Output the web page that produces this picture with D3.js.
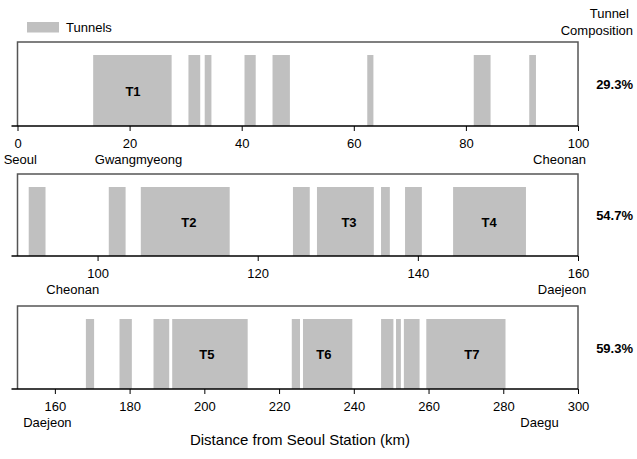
<!DOCTYPE html>
<html><head><meta charset="utf-8">
<script src="https://cdn.jsdelivr.net/npm/d3@7"></script>
<style>body{margin:0;background:#fff} svg text{font-family:"Liberation Sans",Arial,sans-serif;fill:#000}</style>
</head><body><svg id="c" width="637" height="459"></svg>
<script>
// ---- data ----
const panelDomains = [[0,100],[90,160],[150,300]];
const panelTicks = [[0,20,40,60,80,100],[100,120,140,160],[160,180,200,220,240,260,280,300]];
const tunnels1 = [[13.5,27.5],[30.5,32.6],[33.4,34.6],[40.5,42.5],[45.5,48.6],[62.4,63.5],[81.4,84.4],[91.3,92.5]];
const tunnels2 = [[91.4,93.5],[101.4,103.5],[105.4,116.5],[124.4,126.5],[127.4,134.5],[135.4,136.5],[138.4,140.5],[144.4,153.5]];
const tunnels3 = [[168.3,170.5],[177.3,180.6],[186.4,190.6],[191.4,211.6],[223.4,225.6],[226.4,239.6],[247.3,250.6],[251.3,252.6],[253.4,257.6],[259.4,280.6]];
const tunnelLabels1 = [["T1",20.6]];
const tunnelLabels2 = [["T2",111.4],["T3",131.4],["T4",148.9]];
const tunnelLabels3 = [["T5",200.7],["T6",232],["T7",271.6]];
const stations1 = [["Seoul",0.5],["Gwangmyeong",21.6],["Cheonan",96.7]];
const stations2 = [["Cheonan",96.9],["Daejeon",158]];
const stations3 = [["Daejeon",158],["Daegu",289.7]];
const composition = ["29.3%","54.7%","59.3%"];
const legendLabel = "Tunnels";
const compTitle = ["Tunnel","Composition"];
const xTitle = "Distance from Seoul Station (km)";

const tunnels = [tunnels1,tunnels2,tunnels3];
const tunnelLabels = [tunnelLabels1,tunnelLabels2,tunnelLabels3];
const stations = [stations1,stations2,stations3];

// ---- layout ----
const svg = d3.select("#c");
const left = 17.5, right = 578;
const tops = [42,174,306], bottoms = [126,256,389];
const barTopOff = 13;
const barColor = "#c0c0c0";

panelDomains.forEach((dom,i)=>{
  const x = d3.scaleLinear().domain(dom).range([left,right]);
  const top = tops[i], bot = bottoms[i];
  const g = svg.append("g");
  const y0 = top + barTopOff;
  g.selectAll("rect.bar").data(tunnels[i]).join("rect")
    .attr("x", d=>x(d[0])).attr("width", d=>x(d[1])-x(d[0]))
    .attr("y", y0).attr("height", bot-y0).attr("fill", barColor);
  // frame
  g.append("path").attr("d",`M${left},${bot}V${top}H${right}V${bot}`)
    .attr("fill","none").attr("stroke","#555").attr("stroke-width",1.5);
  // axis
  const ax = g.append("g").attr("transform",`translate(0,${bot})`)
    .call(d3.axisBottom(x).tickValues(panelTicks[i]).tickSize(5).tickSizeOuter(0).tickFormat(d3.format("d")));
  ax.select(".domain").remove();
  ax.selectAll(".tick line").attr("stroke","#000").attr("stroke-width",1);
  ax.selectAll(".tick text").attr("font-size",13).attr("dy",null).attr("y",21.5)
    .style("font-family",'"Liberation Sans",Arial,sans-serif');
  g.append("line").attr("x1",left-6).attr("x2",right).attr("y1",bot).attr("y2",bot)
    .attr("stroke","#000").attr("stroke-width",1.5);
  // tunnel labels
  g.selectAll("text.tl").data(tunnelLabels[i]).join("text")
    .attr("x",d=>x(d[1])).attr("y",(y0+bot)/2+5).attr("text-anchor","middle")
    .attr("font-size",13).attr("font-weight","bold").text(d=>d[0]);
  // stations
  g.selectAll("text.st").data(stations[i]).join("text")
    .attr("x",d=>x(d[1])).attr("y",bot+37.5).attr("text-anchor","middle")
    .attr("font-size",13).text(d=>d[0]);
  // composition
  g.append("text").attr("x",633).attr("y",(top+bot)/2+5).attr("text-anchor","end")
    .attr("font-size",13).attr("font-weight","bold").text(composition[i]);
});

// legend
svg.append("rect").attr("x",27).attr("y",22).attr("width",32).attr("height",10.5).attr("fill",barColor);
svg.append("text").attr("x",66).attr("y",32).attr("font-size",13).text(legendLabel);
svg.append("text").attr("x",629).attr("y",18).attr("text-anchor","end").attr("font-size",13).text(compTitle[0]);
svg.append("text").attr("x",633).attr("y",34.5).attr("text-anchor","end").attr("font-size",13).text(compTitle[1]);
svg.append("text").attr("x",300).attr("y",445).attr("text-anchor","middle").attr("font-size",15).text(xTitle);
</script></body></html>
